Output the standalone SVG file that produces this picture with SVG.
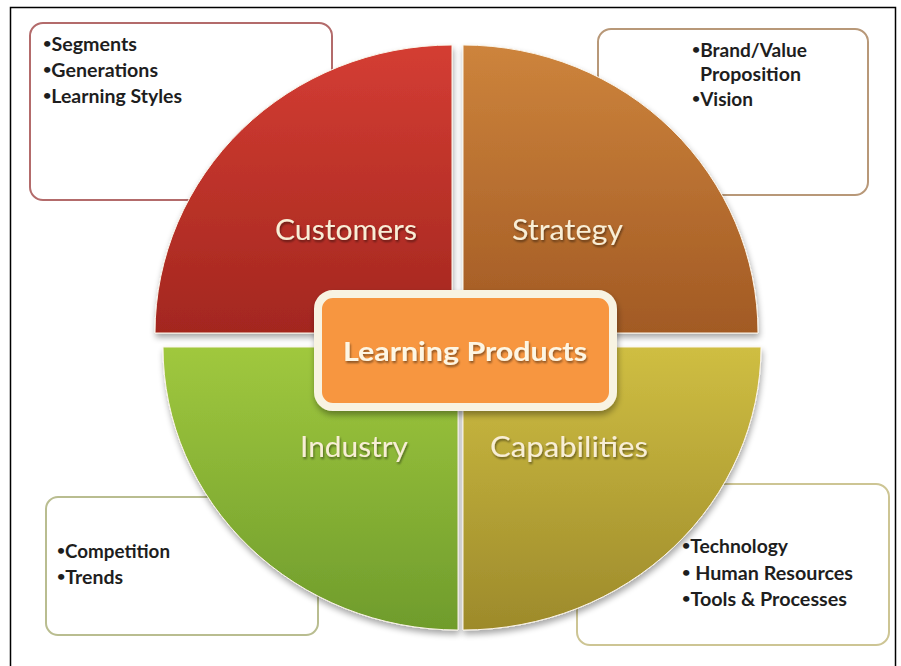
<svg xmlns="http://www.w3.org/2000/svg" width="901" height="666" viewBox="0 0 901 666">
  <defs>
    <linearGradient id="gRed" x1="0" y1="0" x2="0" y2="1">
      <stop offset="0" stop-color="#d43d33"/>
      <stop offset="1" stop-color="#a3271f"/>
    </linearGradient>
    <linearGradient id="gBrown" x1="0" y1="0" x2="0" y2="1">
      <stop offset="0" stop-color="#cd843c"/>
      <stop offset="1" stop-color="#a25a24"/>
    </linearGradient>
    <linearGradient id="gGreen" x1="0" y1="0" x2="0" y2="1">
      <stop offset="0" stop-color="#a0c83e"/>
      <stop offset="1" stop-color="#6f9c2c"/>
    </linearGradient>
    <linearGradient id="gOlive" x1="0" y1="0" x2="0" y2="1">
      <stop offset="0" stop-color="#cfbe42"/>
      <stop offset="1" stop-color="#9d8a2b"/>
    </linearGradient>
    <filter id="shadow" x="-10%" y="-10%" width="120%" height="125%">
      <feGaussianBlur in="SourceAlpha" stdDeviation="3"/>
      <feOffset dx="1" dy="4" result="b"/>
      <feComponentTransfer><feFuncA type="linear" slope="0.35"/></feComponentTransfer>
      <feMerge><feMergeNode/><feMergeNode in="SourceGraphic"/></feMerge>
    </filter>
    <filter id="tshadow" x="-10%" y="-20%" width="120%" height="150%">
      <feGaussianBlur in="SourceAlpha" stdDeviation="1"/>
      <feOffset dx="1" dy="1.5"/>
      <feComponentTransfer><feFuncA type="linear" slope="0.45"/></feComponentTransfer>
      <feMerge><feMergeNode/><feMergeNode in="SourceGraphic"/></feMerge>
    </filter>
    <style>
      .box { fill: #ffffff; stroke-width: 2; }
      .bullet { font-family: Lato, "Liberation Sans", sans-serif; font-weight: bold; font-size: 19px; fill: #1e1e1e; }
      .dot { font-size: 14px; }
      .qlabel { font-family: Lato, "Liberation Sans", sans-serif; font-size: 28px; fill: #f8eed6; }
      .center { font-family: Lato, "Liberation Sans", sans-serif; font-weight: bold; font-size: 26px; fill: #fdf6e4; }
      .quad { stroke: #fbf4e8; stroke-width: 1; }
    </style>
  </defs>

  <rect x="0" y="0" width="901" height="666" fill="#ffffff"/>
  <rect x="10.5" y="7.5" width="885" height="680" fill="none" stroke="#000000" stroke-width="1.5"/>

  <!-- detail boxes (behind quadrants) -->
  <g id="box-customers"><rect class="box" x="30" y="23" width="302" height="177" rx="13" stroke="#b36b6b"/></g>
  <g id="box-strategy"><rect class="box" x="598" y="29" width="270" height="166" rx="13" stroke="#b89878"/></g>
  <g id="box-industry"><rect class="box" x="46" y="497" width="272" height="138" rx="12" stroke="#b9bd90"/></g>
  <g id="box-capabilities"><rect class="box" x="577" y="484" width="312" height="161" rx="13" stroke="#cdc594"/></g>

  <!-- quadrants -->
  <g id="quad-customers" filter="url(#shadow)">
    <path class="quad" d="M452,333 L155,333 A297,288 0 0 1 452,45 Z" fill="url(#gRed)"/>
  </g>
  <g id="quad-strategy" filter="url(#shadow)">
    <path class="quad" d="M463,333 L463,45 A295,288 0 0 1 758,333 Z" fill="url(#gBrown)"/>
  </g>
  <g id="quad-industry" filter="url(#shadow)">
    <path class="quad" d="M458,347 L458,630 A295,283 0 0 1 163,347 Z" fill="url(#gGreen)"/>
  </g>
  <g id="quad-capabilities" filter="url(#shadow)">
    <path class="quad" d="M463,347 L761,347 A298,283 0 0 1 463,630 Z" fill="url(#gOlive)"/>
  </g>

  <!-- quadrant labels -->
  <g filter="url(#tshadow)">
    <text class="qlabel" x="275" y="240" textLength="142" lengthAdjust="spacingAndGlyphs">Customers</text>
    <text class="qlabel" x="512" y="240" textLength="111" lengthAdjust="spacingAndGlyphs">Strategy</text>
    <text class="qlabel" x="300" y="457" textLength="108" lengthAdjust="spacingAndGlyphs">Industry</text>
    <text class="qlabel" x="490" y="457" textLength="158" lengthAdjust="spacingAndGlyphs">Capabilities</text>
  </g>

  <!-- center node -->
  <g id="node-learning-products">
    <rect x="318" y="294" width="295" height="113" rx="15" fill="#f7963f" stroke="#f8f3e2" stroke-width="8" filter="url(#shadow)"/>
    <text class="center" x="343" y="361" textLength="244" lengthAdjust="spacingAndGlyphs" filter="url(#tshadow)">Learning Products</text>
  </g>

  <!-- bullet texts -->
  <g id="text-customers">
    <text class="bullet" x="43" y="51" textLength="94" lengthAdjust="spacingAndGlyphs"><tspan class="dot" dy="-3">•</tspan><tspan dy="3">Segments</tspan></text>
    <text class="bullet" x="43" y="77" textLength="115" lengthAdjust="spacingAndGlyphs"><tspan class="dot" dy="-3">•</tspan><tspan dy="3">Generations</tspan></text>
    <text class="bullet" x="43" y="103" textLength="139" lengthAdjust="spacingAndGlyphs"><tspan class="dot" dy="-3">•</tspan><tspan dy="3">Learning Styles</tspan></text>
  </g>
  <g id="text-strategy">
    <text class="bullet" x="692" y="57" textLength="115" lengthAdjust="spacingAndGlyphs"><tspan class="dot" dy="-3">•</tspan><tspan dy="3">Brand/Value</tspan></text>
    <text class="bullet" x="700" y="81" textLength="101" lengthAdjust="spacingAndGlyphs">Proposition</text>
    <text class="bullet" x="692" y="106" textLength="61" lengthAdjust="spacingAndGlyphs"><tspan class="dot" dy="-3">•</tspan><tspan dy="3">Vision</tspan></text>
  </g>
  <g id="text-industry">
    <text class="bullet" x="57" y="558" textLength="113" lengthAdjust="spacingAndGlyphs"><tspan class="dot" dy="-3">•</tspan><tspan dy="3">Competition</tspan></text>
    <text class="bullet" x="57" y="584" textLength="66" lengthAdjust="spacingAndGlyphs"><tspan class="dot" dy="-3">•</tspan><tspan dy="3">Trends</tspan></text>
  </g>
  <g id="text-capabilities">
    <text class="bullet" x="682" y="553" textLength="106" lengthAdjust="spacingAndGlyphs"><tspan class="dot" dy="-3">•</tspan><tspan dy="3">Technology</tspan></text>
    <text class="bullet" x="682" y="580" textLength="171" lengthAdjust="spacingAndGlyphs"><tspan class="dot" dy="-3">•</tspan><tspan dy="3"> Human Resources</tspan></text>
    <text class="bullet" x="682" y="606" textLength="165" lengthAdjust="spacingAndGlyphs"><tspan class="dot" dy="-3">•</tspan><tspan dy="3">Tools &amp; Processes</tspan></text>
  </g>

  <g id="connectors"></g>
</svg>
